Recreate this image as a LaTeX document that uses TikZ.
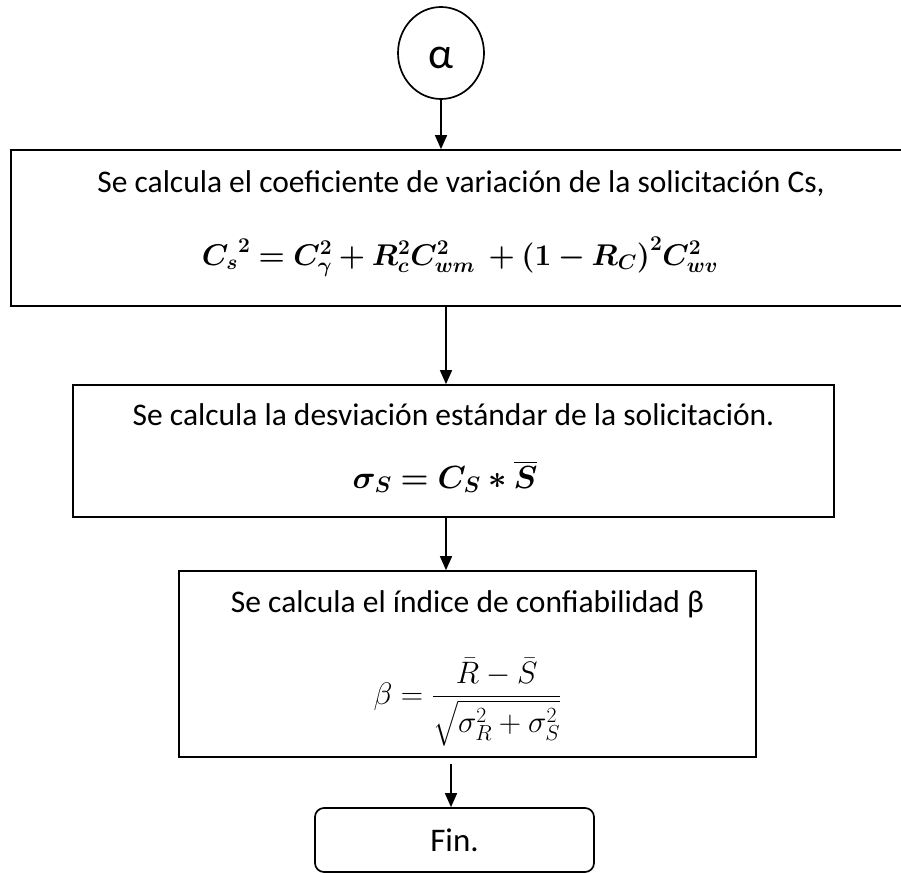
\RequirePackage{fix-cm}
\documentclass[tikz,border=0pt]{standalone}
\usepackage{amsmath,bm}
\usepackage{fontspec}
\setmainfont{Carlito}
\usetikzlibrary{arrows.meta,shapes.geometric}
\begin{document}
\begin{tikzpicture}[x=1pt,y=-1pt,
  boxshape/.style={draw, line width=1.7pt, inner sep=0pt},
  arr/.style={-{Triangle[length=14pt,width=12pt]}, line width=1.5pt},
  txt/.style={anchor=base, inner sep=0pt, font=\fontsize{31.5}{36}\selectfont},
  mth/.style={anchor=base, inner sep=0pt, font=\fontsize{30}{36}\selectfont}]
\useasboundingbox (0,0) rectangle (901,872);
% shapes
\node[boxshape, ellipse, minimum width=86pt, minimum height=92pt] (alpha) at (441,53) {};
\node[anchor=center, inner sep=0pt, font=\fontsize{44}{50}\selectfont] (alphatxt) at (441,58) {α};
\node[boxshape, minimum width=899pt, minimum height=156pt] (b1) at (460.5,228) {};
\node[boxshape, minimum width=761pt, minimum height=132pt] (b2) at (453.5,451) {};
\node[boxshape, minimum width=577pt, minimum height=186pt] (b3) at (467.5,664) {};
\node[boxshape, rounded corners=9pt, minimum width=279pt, minimum height=64pt,
      font=\fontsize{33}{38}\selectfont] (fin) at (454.5,840) {Fin.};
% texts
\node[txt] (t1) at (461,192) {Se calcula el coeficiente de variación de la solicitación Cs,};
\node[mth] (f1) at (460,265) {$\bm{{C_s}^2 = C_\gamma^2 + R_c^2 C_{wm}^2\ + (1 - R_C)^2 C_{wv}^2}$};
\node[txt] (t2) at (453.5,425) {Se calcula la desviación estándar de la solicitación.};
\node[mth, font=\fontsize{32}{38}\selectfont] (f2) at (445,488) {$\bm{\sigma_S = C_S * \overline{S}}$};
\node[txt] (t3) at (467.5,612) {Se calcula el índice de confiabilidad β};
\node[mth, anchor=center, font=\fontsize{31}{36}\selectfont] (f3) at (467.5,702) {$\beta = \dfrac{\bar{R} - \bar{S}}{\sqrt{\sigma_R^2 + \sigma_S^2}}$};
% connectors
\coordinate (c2) at (446,0);
\coordinate (c4) at (451,0);
\draw[arr] (alpha.south) -- (alpha.south |- b1.north);
\draw[arr] (c2 |- b1.south) -- (c2 |- b2.north);
\draw[arr] (c2 |- b2.south) -- (c2 |- b3.north);
\draw[arr] ([yshift=-6pt]c4 |- b3.south) -- (c4 |- fin.north);
\end{tikzpicture}
\end{document}
